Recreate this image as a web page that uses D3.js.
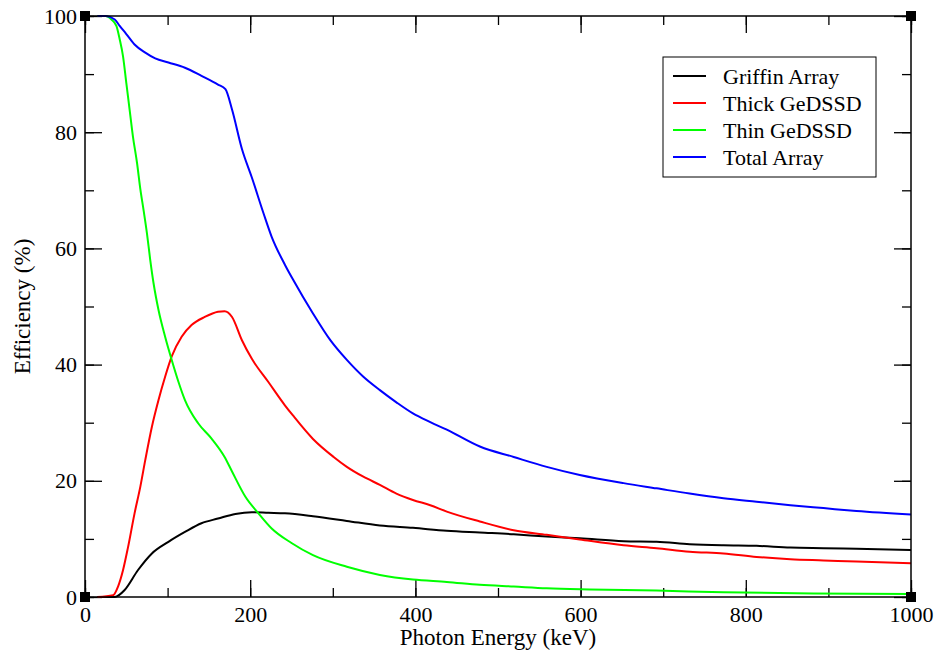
<!DOCTYPE html>
<html>
<head>
<meta charset="utf-8">
<script src="https://cdn.jsdelivr.net/npm/d3@7"></script>
<style>
  body { margin: 0; background: #fff; }
  svg text { font-family: "Liberation Serif", "DejaVu Serif", serif; fill: #000; }
</style>
</head>
<body>
<div id="chart"></div>
<script>
// series data (energy keV, efficiency %)
var griffinE = [15, 36, 48, 64, 81, 101, 121, 141, 161, 182, 202, 222, 242, 276, 317, 357, 397, 438, 478, 519, 559, 599, 652, 692, 732, 773, 813, 854, 894, 934, 1000];
var griffinV = [0, 0, 1.2, 4.6, 7.5, 9.5, 11.2, 12.7, 13.5, 14.3, 14.6, 14.5, 14.4, 13.9, 13.1, 12.3, 11.9, 11.4, 11.1, 10.8, 10.4, 10.1, 9.6, 9.5, 9.1, 8.9, 8.8, 8.5, 8.4, 8.3, 8.1];

var thickE = [15, 34, 40, 46, 52, 60, 67, 73, 81, 89, 97, 105, 117, 129, 145, 161, 169, 178, 190, 202, 222, 242, 252, 276, 301, 317, 337, 357, 377, 397, 418, 438, 478, 519, 559, 599, 652, 692, 732, 773, 813, 854, 894, 934, 1000];
var thickV = [0, 0.3, 1.8, 4.6, 8.5, 14.4, 19.0, 23.6, 29.3, 33.9, 37.9, 41.4, 44.8, 46.8, 48.2, 49.1, 49.2, 48.2, 44.2, 41.0, 37.0, 33.0, 31.2, 27.2, 24.1, 22.4, 20.7, 19.3, 17.8, 16.7, 15.8, 14.7, 13.0, 11.5, 10.7, 9.9, 8.9, 8.4, 7.8, 7.5, 6.9, 6.5, 6.3, 6.1, 5.8];

var thinE = [15, 25, 32, 38, 42, 46, 50, 54, 58, 63, 67, 71, 75, 79, 83, 89, 97, 105, 113, 121, 137, 153, 169, 178, 194, 210, 226, 250, 276, 317, 357, 397, 438, 478, 519, 559, 611, 692, 773, 882, 1000];
var thinV = [100, 100, 99.4, 98.3, 96.0, 93.1, 88.5, 83.9, 79.3, 74.7, 70.2, 66.5, 62.6, 58.0, 54.0, 49.4, 44.8, 40.8, 37.1, 33.9, 29.9, 27.3, 24.1, 21.6, 17.3, 14.4, 11.8, 9.3, 7.2, 5.2, 3.8, 3.0, 2.6, 2.1, 1.8, 1.5, 1.3, 1.1, 0.8, 0.6, 0.5];

var totalE = [15, 25, 36, 42, 50, 60, 73, 85, 101, 121, 141, 161, 170, 178, 190, 202, 216, 226, 242, 252, 276, 297, 317, 337, 357, 377, 397, 418, 438, 478, 519, 559, 599, 652, 692, 732, 773, 813, 854, 894, 934, 1000];
var totalV = [100, 100, 99.4, 98.3, 96.9, 95.1, 93.7, 92.7, 92.0, 91.1, 89.7, 88.2, 87.4, 83.9, 77.1, 72.2, 66.1, 62.0, 57.2, 54.6, 48.8, 44.2, 40.8, 37.9, 35.6, 33.5, 31.6, 30.1, 28.8, 25.9, 24.1, 22.4, 21.0, 19.6, 18.7, 17.8, 17.0, 16.4, 15.8, 15.3, 14.8, 14.2];

var seriesNames = ["Griffin Array", "Thick GeDSSD", "Thin GeDSSD", "Total Array"];
var seriesColors = ["#000000", "#ff0000", "#00ff00", "#0000ff"];
var xMajorTicks = [0, 200, 400, 600, 800, 1000];
var yMajorTicks = [0, 20, 40, 60, 80, 100];

var svgWidth = 938;
var svgHeight = 658;
var margin = { top: 16, right: 27, bottom: 61, left: 85 };
var chartWidth = svgWidth - margin.left - margin.right;
var chartHeight = svgHeight - margin.top - margin.bottom;
var serif = "'Liberation Serif', 'DejaVu Serif', serif";

var svg = d3.select("#chart").append("svg")
    .attr("width", svgWidth)
    .attr("height", svgHeight);

var chartGroup = svg.append("g")
    .attr("transform", `translate(${margin.left}, ${margin.top})`);

var xScale = d3.scaleLinear().domain([0, 1000]).range([0, chartWidth]);
var yScale = d3.scaleLinear().domain([0, 100]).range([chartHeight, 0]);

var xMinor = d3.range(0, 1001, 100);
var yMinor = d3.range(0, 101, 10);

// minor ticks (inward, all four sides)
chartGroup.append("g").attr("transform", `translate(0, ${chartHeight})`)
    .call(d3.axisBottom(xScale).tickValues(xMinor).tickSize(-9).tickFormat(""));
chartGroup.append("g")
    .call(d3.axisTop(xScale).tickValues(xMinor).tickSize(-9).tickFormat(""));
chartGroup.append("g")
    .call(d3.axisLeft(yScale).tickValues(yMinor).tickSize(-9).tickFormat(""));
chartGroup.append("g").attr("transform", `translate(${chartWidth}, 0)`)
    .call(d3.axisRight(yScale).tickValues(yMinor).tickSize(-9).tickFormat(""));

// major ticks
var xAxis = chartGroup.append("g").attr("transform", `translate(0, ${chartHeight})`)
    .call(d3.axisBottom(xScale).tickValues(xMajorTicks).tickSize(-17).tickPadding(9).tickFormat(d3.format("d")));
chartGroup.append("g")
    .call(d3.axisTop(xScale).tickValues(xMajorTicks).tickSize(-17).tickFormat(""));
var yAxis = chartGroup.append("g")
    .call(d3.axisLeft(yScale).tickValues(yMajorTicks).tickSize(-17).tickPadding(8).tickFormat(d3.format("d")));
chartGroup.append("g").attr("transform", `translate(${chartWidth}, 0)`)
    .call(d3.axisRight(yScale).tickValues(yMajorTicks).tickSize(-17).tickFormat(""));

chartGroup.selectAll(".domain").remove();
chartGroup.selectAll("g").attr("font-family", null);
chartGroup.selectAll(".tick line").attr("stroke", "#000").attr("stroke-width", 1.3);
chartGroup.selectAll(".tick text")
    .style("font-family", serif)
    .style("font-size", "22px");

// curves
var series = [
    { e: griffinE, v: griffinV },
    { e: thickE, v: thickV },
    { e: thinE, v: thinV },
    { e: totalE, v: totalV }
];

var line = d3.line()
    .x(d => xScale(d[0]))
    .y(d => yScale(d[1]))
    .curve(d3.curveMonotoneX);

series.forEach(function(s, i) {
    var pts = s.e.map((x, j) => [x, s.v[j]]);
    chartGroup.append("path")
        .datum(pts)
        .attr("fill", "none")
        .attr("stroke", seriesColors[i])
        .attr("stroke-width", 2)
        .attr("d", line);
});

// frame
chartGroup.append("rect")
    .attr("x", 0).attr("y", 0)
    .attr("width", chartWidth).attr("height", chartHeight)
    .attr("fill", "none")
    .attr("stroke", "#000")
    .attr("stroke-width", 1.5);

// corner squares
[[0, 0], [chartWidth, 0], [0, chartHeight], [chartWidth, chartHeight]].forEach(function(c) {
    chartGroup.append("rect")
        .attr("x", c[0] - 5).attr("y", c[1] - 5)
        .attr("width", 10).attr("height", 10)
        .attr("fill", "#000");
});

// legend
var legend = svg.append("g").attr("transform", "translate(663, 57)");
legend.append("rect")
    .attr("width", 213).attr("height", 120)
    .attr("fill", "#fff")
    .attr("stroke", "#000")
    .attr("stroke-width", 1);

seriesNames.forEach(function(name, i) {
    var y = 19 + i * 27;
    legend.append("line")
        .attr("x1", 10).attr("x2", 43)
        .attr("y1", y).attr("y2", y)
        .attr("stroke", seriesColors[i])
        .attr("stroke-width", 2);
    legend.append("text")
        .attr("x", 60).attr("y", y)
        .attr("dy", "0.35em")
        .style("font-family", serif)
        .style("font-size", "22px")
        .text(name);
});

// axis titles
svg.append("text")
    .attr("x", margin.left + chartWidth / 2)
    .attr("y", 645)
    .attr("text-anchor", "middle")
    .style("font-family", serif)
    .style("font-size", "23px")
    .text("Photon Energy (keV)");

svg.append("text")
    .attr("transform", `translate(30, ${margin.top + chartHeight / 2}) rotate(-90)`)
    .attr("text-anchor", "middle")
    .style("font-family", serif)
    .style("font-size", "23px")
    .text("Efficiency (%)");
</script>
</body>
</html>
